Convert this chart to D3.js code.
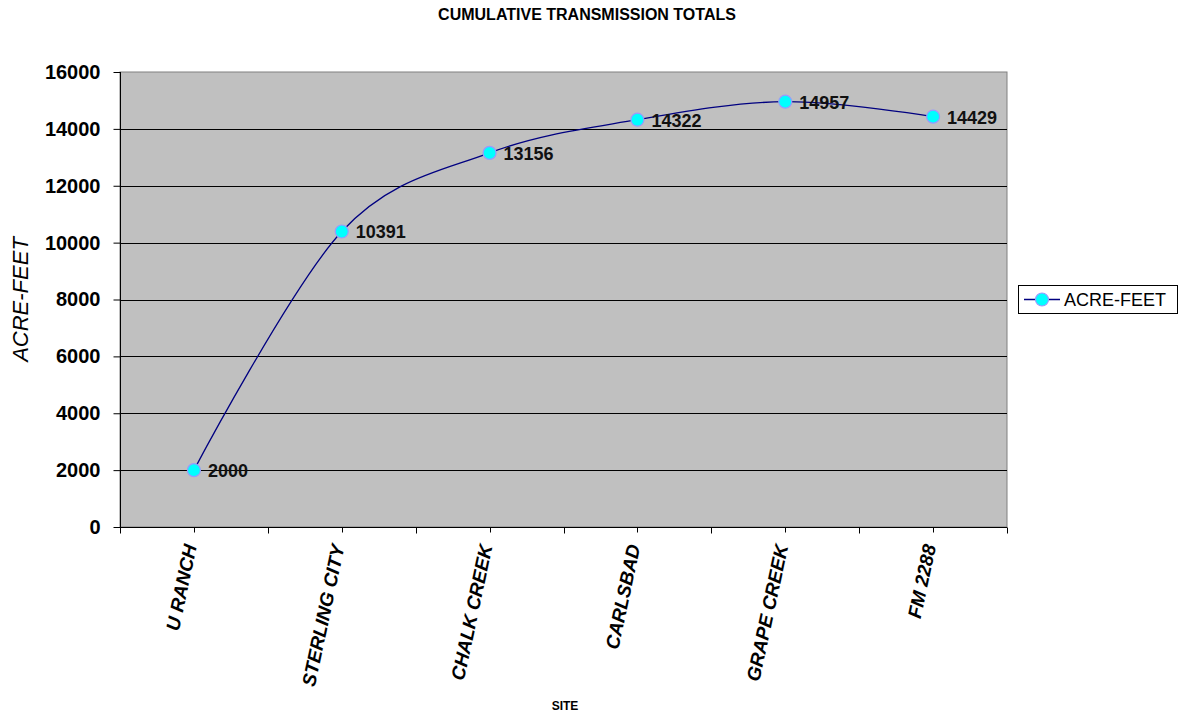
<!DOCTYPE html>
<html>
<head>
<meta charset="utf-8">
<script src="https://cdn.jsdelivr.net/npm/d3@7/dist/d3.min.js"></script>
<style>
  html, body { margin: 0; padding: 0; background: #fff; }
  svg { display: block; font-family: "Liberation Sans", Arial, sans-serif; }
</style>
</head>
<body>
<svg id="chart" width="1181" height="714"></svg>
<script>
// Cumulative transmission totals by site (acre-feet)
const sites = ["U RANCH", "STERLING CITY", "CHALK CREEK", "CARLSBAD", "GRAPE CREEK", "FM 2288"];
const acreFeet = [2000, 10391, 13156, 14322, 14957, 14429];
const yTicks = [0, 2000, 4000, 6000, 8000, 10000, 12000, 14000, 16000];
const seriesName = "ACRE-FEET";

const svg = d3.select("#chart");
const plot = { left: 120, top: 72, right: 1007, bottom: 527 };

const x = d3.scaleBand().domain(sites).range([plot.left, plot.right]).padding(0);
const y = d3.scaleLinear().domain([0, 16000]).range([plot.bottom, plot.top]);

// plot background
svg.append("rect")
  .attr("x", plot.left).attr("y", plot.top)
  .attr("width", plot.right - plot.left).attr("height", plot.bottom - plot.top)
  .attr("fill", "#c0c0c0").attr("stroke", "#808080").attr("stroke-width", 1);

// horizontal gridlines
svg.append("g")
  .selectAll("line")
  .data(yTicks.filter(d => d > 0 && d < 16000))
  .join("line")
  .attr("x1", plot.left).attr("x2", plot.right)
  .attr("y1", d => Math.round(y(d)) + 0.5).attr("y2", d => Math.round(y(d)) + 0.5)
  .attr("stroke", "#000").attr("stroke-width", 1);

// y axis
const yAxis = svg.append("g")
  .attr("transform", `translate(${plot.left + 0.5},0)`)
  .call(d3.axisLeft(y).tickValues(yTicks).tickSize(7).tickPadding(13).tickFormat(d3.format("d")));
yAxis.select(".domain").attr("stroke", "#000").attr("d", `M0,${plot.top}V${plot.bottom}`);
yAxis.selectAll(".tick line").attr("stroke", "#000");
yAxis.selectAll(".tick text")
  .attr("font-size", 20).attr("font-weight", "bold").attr("fill", "#000")
  .attr("font-family", "'Liberation Sans', Arial, sans-serif");

// x axis with ticks at category boundaries and centres
const xAxisG = svg.append("g").attr("transform", `translate(0,${plot.bottom + 0.5})`);
xAxisG.append("line")
  .attr("x1", plot.left).attr("x2", plot.right)
  .attr("stroke", "#000");
const boundaries = sites.map(s => x(s)).concat([plot.right]);
xAxisG.selectAll("line.b").data(boundaries).join("line").attr("class", "b")
  .attr("x1", d => Math.round(d) + 0.5).attr("x2", d => Math.round(d) + 0.5)
  .attr("y1", 0).attr("y2", 6).attr("stroke", "#000");
xAxisG.selectAll("line.c").data(sites).join("line").attr("class", "c")
  .attr("x1", d => Math.round(x(d) + x.bandwidth() / 2) + 0.5)
  .attr("x2", d => Math.round(x(d) + x.bandwidth() / 2) + 0.5)
  .attr("y1", 0).attr("y2", 5).attr("stroke", "#000");

// rotated category labels
svg.append("g")
  .selectAll("text")
  .data(sites)
  .join("text")
  .attr("transform", d => `translate(${x(d) + x.bandwidth() / 2 + 3},${plot.bottom + 19}) rotate(-78)`)
  .attr("text-anchor", "end")
  .attr("font-size", 19).attr("font-weight", "bold").attr("font-style", "italic")
  .attr("fill", "#000")
  .text(d => d);

// smoothed series line
const cx = d => x(d) + x.bandwidth() / 2;
const line = d3.line()
  .x((d, i) => cx(sites[i]))
  .y(d => y(d))
  .curve(d3.curveCardinal.tension(0));
svg.append("path")
  .datum(acreFeet)
  .attr("d", line)
  .attr("fill", "none").attr("stroke", "#000080").attr("stroke-width", 1.3);

// markers
svg.append("g")
  .selectAll("circle")
  .data(acreFeet)
  .join("circle")
  .attr("cx", (d, i) => cx(sites[i]))
  .attr("cy", d => y(d))
  .attr("r", 6.5)
  .attr("fill", "#00ffff").attr("stroke", "#9999ff").attr("stroke-width", 1.2);

// value labels
svg.append("g")
  .selectAll("text")
  .data(acreFeet)
  .join("text")
  .attr("x", (d, i) => cx(sites[i]) + 14)
  .attr("y", d => y(d))
  .attr("dy", "0.38em")
  .attr("font-size", 18).attr("font-weight", "bold").attr("fill", "#111")
  .text(d => d);

// titles
svg.append("text")
  .attr("x", 587).attr("y", 20)
  .attr("text-anchor", "middle")
  .attr("font-size", 16).attr("font-weight", "bold").attr("fill", "#000")
  .text("CUMULATIVE TRANSMISSION TOTALS");

svg.append("text")
  .attr("x", 565).attr("y", 710)
  .attr("text-anchor", "middle")
  .attr("font-size", 12).attr("font-weight", "bold").attr("fill", "#000")
  .text("SITE");

svg.append("text")
  .attr("transform", `translate(28,${(plot.top + plot.bottom) / 2}) rotate(-90)`)
  .attr("text-anchor", "middle")
  .attr("font-size", 22).attr("font-style", "italic").attr("fill", "#000")
  .text(seriesName);

// legend
const lg = svg.append("g").attr("transform", "translate(1018,285)");
lg.append("rect").attr("x", 0.5).attr("y", 0.5).attr("width", 159).attr("height", 28)
  .attr("fill", "#fff").attr("stroke", "#000");
lg.append("line").attr("x1", 6).attr("x2", 42).attr("y1", 14.5).attr("y2", 14.5)
  .attr("stroke", "#000080").attr("stroke-width", 1.3);
lg.append("circle").attr("cx", 24).attr("cy", 14.5).attr("r", 6.5)
  .attr("fill", "#00ffff").attr("stroke", "#9999ff").attr("stroke-width", 1.2);
lg.append("text").attr("x", 46).attr("y", 14.5).attr("dy", "0.36em")
  .attr("font-size", 18).attr("fill", "#000").text(seriesName);
</script>
</body>
</html>
